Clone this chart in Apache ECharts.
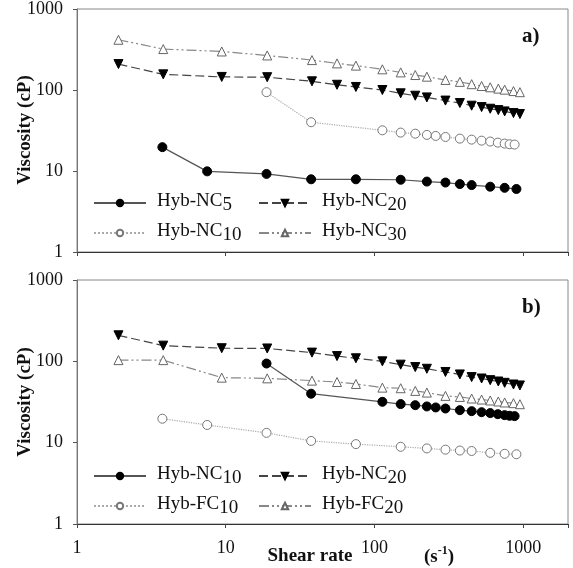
<!DOCTYPE html>
<html>
<head>
<meta charset="utf-8">
<script src="https://cdn.jsdelivr.net/npm/echarts@6/dist/echarts.min.js"></script>
<style>html,body{margin:0;padding:0;background:#fff}#main{width:573px;height:568px}</style>
</head>
<body>
<div id="main"></div>
<script>
// shear rates (1/s)
var rateLong  = [1.9, 3.8, 9.4, 19, 38, 56, 75, 113, 150, 188, 225, 300, 375, 450, 525, 600, 680, 750, 860, 950];
var rateShort = [3.75, 7.5, 18.8, 37.5, 75, 150, 225, 300, 375, 450, 600, 750, 900];
var rateNC10  = [18.8, 37.5, 113, 150, 188, 225, 258, 300, 375, 450, 525, 600, 675, 750, 810, 875];

// viscosity (cP)
var visNC5  = [19.7, 9.9, 9.2, 7.9, 7.9, 7.8, 7.4, 7.2, 6.9, 6.7, 6.4, 6.2, 6.0];
var visNC10 = [94, 40, 31.8, 29.8, 28.9, 27.9, 27.1, 26.3, 25.1, 24.4, 23.7, 23.1, 22.4, 21.8, 21.4, 21.2];
var visNC20 = [209, 156, 145, 144, 128, 116, 109, 100, 91, 85, 81, 74, 69, 64, 61.5, 58.7, 56.5, 54.4, 51.9, 50.5];
var visNC30 = [417, 320, 299, 267, 234, 213, 200, 180, 165, 153, 146, 133, 126, 118, 112, 108, 104, 101, 97, 94];
var visFC10 = [19.7, 16.5, 13.2, 10.5, 9.6, 8.9, 8.5, 8.2, 8.0, 7.9, 7.5, 7.3, 7.2];
var visFC20 = [103.5, 103.5, 63, 61.8, 57.9, 55.7, 52.7, 47.5, 46.7, 43.3, 41.3, 37.6, 36.5, 34.9, 33.9, 33.0, 32.1, 31.2, 30.6, 29.7];

var xTicks = [1, 10, 100, 1000];
var yTicks = [1, 10, 100, 1000];

var serif = 'Liberation Serif';
var myChart = echarts.init(document.getElementById('main'));

function pairs(xs, ys) {
    var out = [];
    for (var i = 0; i < ys.length; i++) out.push([xs[i], ys[i]]);
    return out;
}

// line / marker looks
var look = {
    filled:  { lineStyle: { color: '#555', width: 1.2, type: 'solid' }, symbol: 'circle', symbolRotate: 0,
               itemStyle: { color: '#000', borderColor: '#000', borderWidth: 1 } },
    open:    { lineStyle: { color: '#aaa', width: 1.2, type: 'dotted' }, symbol: 'circle', symbolRotate: 0,
               itemStyle: { color: '#fff', borderColor: '#777', borderWidth: 1 } },
    down:    { lineStyle: { color: '#444', width: 1.2, type: [9, 4] }, symbol: 'triangle', symbolRotate: 180,
               itemStyle: { color: '#000', borderColor: '#000', borderWidth: 1 } },
    up:      { lineStyle: { color: '#888', width: 1.2, type: [10, 3, 2, 3, 2, 3] }, symbol: 'triangle', symbolRotate: 0,
               itemStyle: { color: '#fff', borderColor: '#666', borderWidth: 1 } }
};

function series(name, idx, xs, ys, kind) {
    var l = look[kind];
    return {
        name: name, type: 'line', xAxisIndex: idx, yAxisIndex: idx,
        data: pairs(xs, ys), symbol: l.symbol, symbolRotate: l.symbolRotate, symbolSize: 9,
        lineStyle: l.lineStyle, itemStyle: l.itemStyle, animation: false
    };
}

function legendFmt(name) {
    var m = name.slice(2).match(/^(Hyb-[NF]C)(\d+)$/);
    return '{n|' + m[1] + '}{s|' + m[2] + '}';
}

function legend(name, left, top) {
    return {
        data: [name], left: left, top: top, padding: 0, itemWidth: 52, itemHeight: 8,
        selectedMode: false, formatter: legendFmt,
        textStyle: {
            rich: {
                n: { fontFamily: serif, fontSize: 19, color: '#111', lineHeight: 22, verticalAlign: 'top', padding: [0, 0, 0, 6] },
                s: { fontFamily: serif, fontSize: 19, color: '#111', lineHeight: 22, verticalAlign: 'top', padding: [4, 0, 0, 0] }
            }
        }
    };
}

function xAxis(idx, showLabel) {
    return {
        type: 'log', logBase: 10, min: 1, max: 2000, gridIndex: idx,
        axisLine: { lineStyle: { color: '#333', width: 1 } },
        axisTick: { length: 4, lineStyle: { color: '#444' } },
        splitLine: { show: false },
        axisLabel: {
            show: showLabel, margin: 15, fontFamily: serif, fontSize: 18, color: '#111',
            formatter: function (v) { return xTicks.indexOf(Math.round(v)) >= 0 ? String(Math.round(v)) : ''; }
        }
    };
}

function yAxis(idx) {
    return {
        type: 'log', logBase: 10, min: 1, max: 1000, gridIndex: idx,
        axisLine: { lineStyle: { color: '#777', width: 1 } },
        axisTick: { length: 4, lineStyle: { color: '#555' } },
        splitLine: { show: false },
        axisLabel: {
            margin: 14, fontFamily: serif, fontSize: 18, color: '#111',
            formatter: function (v) { return yTicks.indexOf(Math.round(v)) >= 0 ? String(Math.round(v)) : ''; }
        }
    };
}

option = {
    backgroundColor: '#fff',
    grid: [
        { left: 77, top: 7, right: 5, height: 245, show: true, borderColor: '#888', borderWidth: 1 },
        { left: 77, top: 280, right: 5, height: 244, show: true, borderColor: '#888', borderWidth: 1 }
    ],
    xAxis: [xAxis(0, false), xAxis(1, true)],
    yAxis: [yAxis(0), yAxis(1)],
    legend: [
        legend('a Hyb-NC5', 93, 192), legend('a Hyb-NC10', 93, 222),
        legend('a Hyb-NC20', 258, 192), legend('a Hyb-NC30', 258, 222),
        legend('b Hyb-NC10', 93, 465), legend('b Hyb-FC10', 93, 495),
        legend('b Hyb-NC20', 258, 465), legend('b Hyb-FC20', 258, 495)
    ],
    series: [
        series('a Hyb-NC30', 0, rateLong, visNC30, 'up'),
        series('a Hyb-NC20', 0, rateLong, visNC20, 'down'),
        series('a Hyb-NC10', 0, rateNC10, visNC10, 'open'),
        series('a Hyb-NC5', 0, rateShort, visNC5, 'filled'),
        series('b Hyb-NC20', 1, rateLong, visNC20, 'down'),
        series('b Hyb-FC20', 1, rateLong, visFC20, 'up'),
        series('b Hyb-NC10', 1, rateNC10, visNC10, 'filled'),
        series('b Hyb-FC10', 1, rateShort, visFC10, 'open')
    ],
    graphic: [
        { type: 'text', left: 522, top: 26, style: { text: 'a)', font: 'bold 21px "Liberation Serif"', fill: '#111' } },
        { type: 'text', left: 522, top: 297, style: { text: 'b)', font: 'bold 21px "Liberation Serif"', fill: '#111' } },
        { type: 'text', x: 25, y: 130, rotation: Math.PI / 2,
          style: { text: 'Viscosity (cP)', font: 'bold 19px "Liberation Serif"', fill: '#111', align: 'center', verticalAlign: 'middle' } },
        { type: 'text', x: 25, y: 402, rotation: Math.PI / 2,
          style: { text: 'Viscosity (cP)', font: 'bold 19px "Liberation Serif"', fill: '#111', align: 'center', verticalAlign: 'middle' } },
        { type: 'text', x: 310, y: 556,
          style: { text: 'Shear rate', font: 'bold 19px "Liberation Serif"', fill: '#111', align: 'center', verticalAlign: 'middle' } },
        { type: 'text', x: 424, y: 556,
          style: {
              text: '{a|(s}{b|-1}{a|)}', verticalAlign: 'middle',
              rich: {
                  a: { fontFamily: serif, fontWeight: 'bold', fontSize: 19, fill: '#111', lineHeight: 22, verticalAlign: 'bottom' },
                  b: { fontFamily: serif, fontWeight: 'bold', fontSize: 12, fill: '#111', lineHeight: 22, verticalAlign: 'top' }
              }
          } }
    ]
};

myChart.setOption(option);
</script>
</body>
</html>
